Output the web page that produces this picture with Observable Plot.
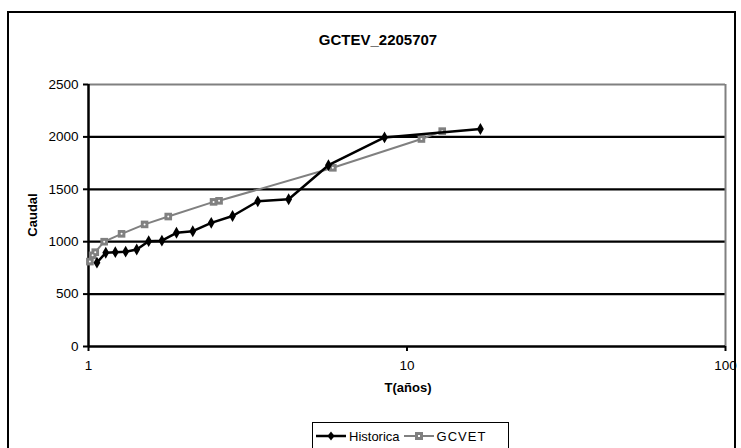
<!DOCTYPE html>
<html><head><meta charset="utf-8">
<script src="https://cdn.jsdelivr.net/npm/d3@7"></script>
<script src="https://cdn.jsdelivr.net/npm/@observablehq/plot@0.6"></script>
<style>
body{margin:0;background:#fff;font-family:"Liberation Sans",Arial,sans-serif;}
#wrap{position:relative;width:741px;height:448px;overflow:hidden;background:#fff;}
#frame{position:absolute;left:7px;top:11px;width:729px;height:460px;border:2px solid #000;box-sizing:border-box;}
#title{position:absolute;left:0;width:756px;top:31px;text-align:center;font-weight:bold;font-size:15px;}
#xlabel{position:absolute;left:0;width:816px;top:380px;text-align:center;font-weight:bold;font-size:13px;}
#ylabel{position:absolute;left:32px;top:215px;transform:translate(-50%,-50%) rotate(-90deg);font-weight:bold;font-size:13px;white-space:nowrap;}
#legend{position:absolute;left:312px;top:422px;width:197px;height:40px;border:1.5px solid #000;box-sizing:border-box;display:flex;align-items:flex-start;padding-top:4px;font-size:13px;}
#legend .item{display:flex;align-items:center;}
#legend svg{display:block;}
#chart{position:absolute;left:0;top:0;}
#chart svg text{font-size:13.5px !important;font-family:"Liberation Sans",Arial,sans-serif !important;}
</style>
</head><body>
<div id="wrap">
  <div id="frame"></div>
  <div id="chart"></div>
  <div id="title"></div>
  <div id="xlabel"></div>
  <div id="ylabel"></div>
  <div id="legend"></div>
</div>
<script>
const chartTitle = "GCTEV_2205707";
const xTitle = "T(años)";
const yTitle = "Caudal";
const seriesNames = ["Historica", "GCVET"];

const T_hist = [17, 8.5, 5.667, 4.25, 3.4, 2.833, 2.429, 2.125, 1.889, 1.7, 1.545, 1.417, 1.308, 1.214, 1.133, 1.063];
const Q_hist = [2075, 1995, 1730, 1405, 1385, 1245, 1180, 1100, 1085, 1010, 1005, 925, 905, 900, 895, 800];

const T_gcvet = [1.01, 1.03, 1.05, 1.12, 1.27, 1.5, 1.78, 2.47, 2.57, 5.85, 11.1, 12.9];
const Q_gcvet = [810, 870, 900, 1000, 1075, 1165, 1240, 1380, 1390, 1705, 1980, 2055];

const xTicks = [1, 10, 100];
const yTicks = [0, 500, 1000, 1500, 2000, 2500];

const hist = T_hist.map((t, i) => ({T: t, Q: Q_hist[i]}));
const gcvet = T_gcvet.map((t, i) => ({T: t, Q: Q_gcvet[i]}));

const inner = yTicks.filter(v => v > 0 && v < 2500);

const chart = Plot.plot({
  width: 741, height: 448,
  marginLeft: 88, marginRight: 16, marginTop: 84, marginBottom: 102,
  x: {type: "log", domain: [1, 100]},
  y: {domain: [0, 2500]},
  style: {fontFamily: "Liberation Sans, Arial, sans-serif", fontSize: "13.5px", color: "#000", background: "transparent", overflow: "visible"},
  marks: [
    Plot.ruleY(inner, {stroke: "#000", strokeWidth: 2.2}),
    Plot.ruleY([2500], {stroke: "#808080", strokeWidth: 2}),
    Plot.ruleX([100], {stroke: "#808080", strokeWidth: 2}),
    Plot.axisY(yTicks, {tickSize: 5, tickPadding: 5, strokeWidth: 2, stroke: "#000", label: null, fontSize: 13.5, fill: "#000", tickFormat: d => String(d)}),
    Plot.axisX(xTicks, {tickSize: 5, tickPadding: 9, strokeWidth: 2, stroke: "#000", label: null, fontSize: 13.5, fill: "#000", tickFormat: d => String(d)}),
    Plot.ruleY([0], {stroke: "#000", strokeWidth: 2.5}),
    Plot.ruleX([1], {stroke: "#000", strokeWidth: 2.5}),
    Plot.line(gcvet, {x: "T", y: "Q", stroke: "#808080", strokeWidth: 2}),
    Plot.dot(gcvet, {x: "T", y: "Q", symbol: "square", fill: "#808080", r: 4.3}),
    Plot.dot(gcvet, {x: "T", y: "Q", fill: "#fff", r: 1}),
    Plot.line(hist, {x: "T", y: "Q", stroke: "#000", strokeWidth: 2.5}),
    Plot.dot(hist, {x: "T", y: "Q", symbol: "diamond", fill: "#000", r: 3.6})
  ]
});
document.getElementById("chart").appendChild(chart);
document.getElementById("title").textContent = chartTitle;
document.getElementById("xlabel").textContent = xTitle;
document.getElementById("ylabel").textContent = yTitle;

const leg = document.getElementById("legend");
const styles = [
  {stroke: "#000", sw: 2.5, marker: "diamond"},
  {stroke: "#808080", sw: 2, marker: "square"}
];
seriesNames.forEach((name, i) => {
  const it = document.createElement("div");
  it.className = "item";
  it.style.marginLeft = i === 0 ? "3px" : "4px";
  const s = styles[i];
  let mk = s.marker === "diamond"
    ? `<path d="M15,4.5 L18.5,9 L15,13.5 L11.5,9 Z" fill="#000"/>`
    : `<rect x="11" y="5" width="8" height="8" fill="#808080"/><rect x="14" y="8" width="2" height="2" fill="#fff"/>`;
  it.innerHTML = `<svg width="30" height="18"><line x1="0" y1="9" x2="30" y2="9" stroke="${s.stroke}" stroke-width="${s.sw}"/>${mk}</svg><span style="margin-left:3px;${i===1?'letter-spacing:1px':''}">${name}</span>`;
  leg.appendChild(it);
});
</script>
</body></html>
